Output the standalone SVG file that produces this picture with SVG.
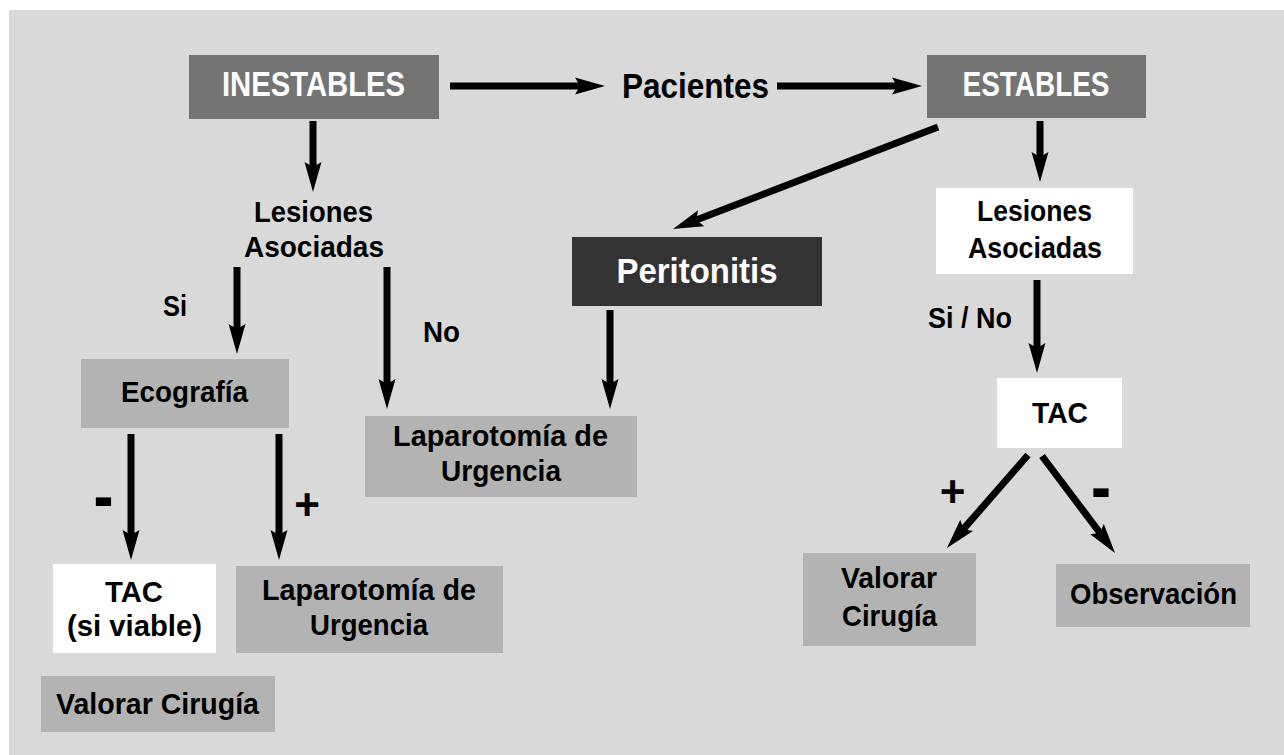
<svg xmlns="http://www.w3.org/2000/svg" width="1284" height="755" viewBox="0 0 1284 755">
<defs>
<style>
text{font-family:"Liberation Sans",Arial,sans-serif;font-weight:bold;text-anchor:middle;fill:#000}
.big{font-size:35px}
.med{font-size:30px}
.w{fill:#fff}
.dark{fill:#747474}
.black{fill:#333333}
.light{fill:#b3b3b3}
.white{fill:#ffffff}
.conn line{stroke:#000;stroke-width:7;marker-end:url(#ah)}
</style>
<marker id="ah" markerUnits="userSpaceOnUse" markerWidth="30" markerHeight="18" viewBox="0 0 30 18" refX="10" refY="9" orient="auto">
<path d="M0,0.5 L30,9 L0,17.5 L5,9 Z" fill="#000"/>
</marker>
</defs>
<rect x="0" y="0" width="1284" height="755" fill="#ffffff"/>
<rect x="9" y="10" width="1275" height="745" fill="#d9d9d9"/>

<g id="inestables">
<rect class="dark" x="189" y="55" width="250" height="64"/>
<text class="big w" x="313.5" y="96" textLength="183" lengthAdjust="spacingAndGlyphs">INESTABLES</text>
</g>
<g id="pacientes">
<text class="big" x="695.5" y="98" textLength="147" lengthAdjust="spacingAndGlyphs">Pacientes</text>
</g>
<g id="estables">
<rect class="dark" x="927" y="55" width="219" height="63"/>
<text class="big w" x="1036" y="96" textLength="147" lengthAdjust="spacingAndGlyphs">ESTABLES</text>
</g>
<g id="lesiones-izq">
<text class="med" x="313.5" y="222" textLength="119" lengthAdjust="spacingAndGlyphs">Lesiones</text>
<text class="med" x="314" y="257" textLength="140" lengthAdjust="spacingAndGlyphs">Asociadas</text>
</g>
<g id="peritonitis">
<rect class="black" x="572" y="237" width="250" height="69"/>
<text class="big w" x="697" y="283" textLength="161" lengthAdjust="spacingAndGlyphs">Peritonitis</text>
</g>
<g id="lesiones-der">
<rect class="white" x="936" y="188" width="197" height="86"/>
<text class="med" x="1034.5" y="221" textLength="115" lengthAdjust="spacingAndGlyphs">Lesiones</text>
<text class="med" x="1035" y="258" textLength="134" lengthAdjust="spacingAndGlyphs">Asociadas</text>
</g>
<g id="ecografia">
<rect class="light" x="81" y="359" width="208" height="69"/>
<text class="med" x="184.5" y="402" textLength="127" lengthAdjust="spacingAndGlyphs">Ecografía</text>
</g>
<g id="laparotomia-1">
<rect class="light" x="365" y="416" width="272" height="81"/>
<text class="med" x="500.5" y="446" textLength="215" lengthAdjust="spacingAndGlyphs">Laparotomía de</text>
<text class="med" x="501" y="481" textLength="120" lengthAdjust="spacingAndGlyphs">Urgencia</text>
</g>
<g id="tac-izq">
<rect class="white" x="53" y="564" width="163" height="89"/>
<text class="med" x="134" y="602" textLength="58" lengthAdjust="spacingAndGlyphs">TAC</text>
<text class="med" x="134.5" y="636" textLength="135" lengthAdjust="spacingAndGlyphs">(si viable)</text>
</g>
<g id="laparotomia-2">
<rect class="light" x="236" y="566" width="267" height="87"/>
<text class="med" x="369" y="600" textLength="214" lengthAdjust="spacingAndGlyphs">Laparotomía de</text>
<text class="med" x="369" y="635" textLength="118" lengthAdjust="spacingAndGlyphs">Urgencia</text>
</g>
<g id="valorar-izq">
<rect class="light" x="41" y="676" width="234" height="56"/>
<text class="med" x="157.5" y="714" textLength="203" lengthAdjust="spacingAndGlyphs">Valorar Cirugía</text>
</g>
<g id="tac-der">
<rect class="white" x="997" y="378" width="125" height="70"/>
<text class="med" x="1060" y="423" textLength="56" lengthAdjust="spacingAndGlyphs">TAC</text>
</g>
<g id="valorar-der">
<rect class="light" x="803" y="553" width="173" height="93"/>
<text class="med" x="889" y="588" textLength="96" lengthAdjust="spacingAndGlyphs">Valorar</text>
<text class="med" x="889.5" y="626" textLength="95" lengthAdjust="spacingAndGlyphs">Cirugía</text>
</g>
<g id="observacion">
<rect class="light" x="1056" y="564" width="194" height="63"/>
<text class="med" x="1153.5" y="604" textLength="167" lengthAdjust="spacingAndGlyphs">Observación</text>
</g>

<g id="connectors" class="conn">
<line x1="450" y1="86" x2="585" y2="86"/>
<line x1="777" y1="86" x2="902" y2="86"/>
<line x1="313" y1="121" x2="313" y2="172"/>
<line x1="1040" y1="121" x2="1040" y2="162"/>
<line x1="938" y1="127" x2="691.7" y2="221.8"/>
<line x1="237" y1="267" x2="237" y2="334"/>
<line x1="387" y1="267" x2="387" y2="389"/>
<line x1="610" y1="310" x2="610" y2="389"/>
<line x1="131" y1="434" x2="131" y2="540"/>
<line x1="279" y1="434" x2="279" y2="540"/>
<line x1="1037" y1="280" x2="1037" y2="353"/>
<line x1="1028" y1="455" x2="960.1" y2="532.9"/>
<line x1="1042" y1="456" x2="1103" y2="537"/>
</g>

<g id="labels">
<text class="med" x="175" y="316" textLength="24" lengthAdjust="spacingAndGlyphs">Si</text>
<text class="med" x="441.5" y="342" textLength="37" lengthAdjust="spacingAndGlyphs">No</text>
<text class="med" x="970" y="328" textLength="84" lengthAdjust="spacingAndGlyphs">Si / No</text>
<text style="font-size:72px" x="103.5" y="520" textLength="20" lengthAdjust="spacingAndGlyphs">-</text>
<text style="font-size:44px" x="307" y="520">+</text>
<text style="font-size:44px" x="952.5" y="507">+</text>
<text style="font-size:72px" x="1101" y="511" textLength="20" lengthAdjust="spacingAndGlyphs">-</text>
</g>
</svg>
